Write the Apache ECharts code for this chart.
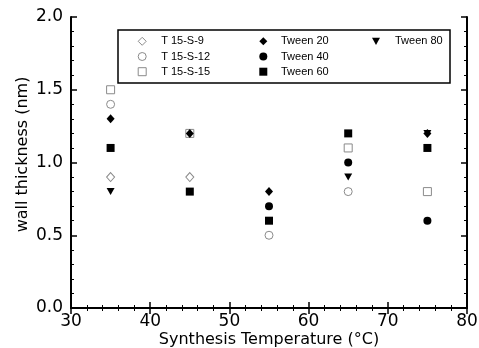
<!DOCTYPE html>
<html><head><meta charset="utf-8">
<script src="https://cdn.jsdelivr.net/npm/echarts@6/dist/echarts.min.js"></script>
<style>html,body{margin:0;padding:0;background:#fff}#c{width:479px;height:348px}</style>
</head><body><div id="c"></div>
<script>
const temps = [35, 45, 55, 65, 75];
const seriesNames = ['T 15-S-9', 'T 15-S-12', 'T 15-S-15', 'Tween 20', 'Tween 40', 'Tween 60', 'Tween 80'];
const t15s9   = [0.9, 0.9, null, null, null];
const t15s12  = [1.4, null, 0.5, 0.8, null];
const t15s15  = [1.5, 1.2, null, 1.1, 0.8];
const tween20 = [1.3, 1.2, 0.8, null, 1.2];
const tween40 = [null, null, 0.7, 1.0, 0.6];
const tween60 = [1.1, 0.8, 0.6, 1.2, 1.1];
const tween80 = [0.8, null, null, 0.9, 1.2];
const xTicks = [30, 40, 50, 60, 70, 80];
const yTicks = [0.0, 0.5, 1.0, 1.5, 2.0];

const values = [t15s9, t15s12, t15s15, tween20, tween40, tween60, tween80];
const downTri = 'path://M0,0L10,0L5,9Z';
const styles = [
  {symbol: 'diamond', size: [8, 9], open: true},
  {symbol: 'circle', size: 8, open: true},
  {symbol: 'rect', size: 8, open: true},
  {symbol: 'diamond', size: [8, 9], open: false},
  {symbol: 'circle', size: 8, open: false},
  {symbol: 'rect', size: 8, open: false},
  {symbol: downTri, size: [8, 7], open: false}
];
const openStyle = {color: '#fff', borderColor: '#8a8a8a', borderWidth: 1, opacity: 1};
const fillStyle = {color: '#000', borderWidth: 0, opacity: 1};
const series = seriesNames.map((n, i) => ({
  name: n, type: 'scatter', xAxisIndex: 0, yAxisIndex: 0,
  symbol: styles[i].symbol, symbolSize: styles[i].size,
  itemStyle: styles[i].open ? openStyle : fillStyle,
  data: temps.map((t, j) => values[i][j] == null ? null : [t, values[i][j]]).filter(d => d)
}));

const chart = echarts.init(document.getElementById('c'), null, {renderer: 'canvas'});
const font = 'DejaVu Sans';
const axisCommon = {
  axisLine: {lineStyle: {color: '#000', width: 2}},
  axisTick: {inside: true, length: 6, lineStyle: {color: '#000', width: 1.5}},
  minorTick: {show: true, splitNumber: 5, length: 3, lineStyle: {color: '#000', width: 1}},
  splitLine: {show: false}
};
function legendDef(left, names, pad) {
  return {
    orient: 'vertical', left: left, top: 34.8, padding: 0, itemWidth: 8, itemHeight: 8, itemGap: 2.2,
    textStyle: {fontFamily: 'Liberation Sans', fontSize: 11, lineHeight: 13, color: '#000', padding: [0, 0, 0, pad]},
    selectedMode: false,
    data: names.map(n => {
      const i = seriesNames.indexOf(n);
      return {name: n, icon: styles[i].symbol, itemStyle: styles[i].open ? openStyle : fillStyle};
    })
  };
}
chart.setOption({
  animation: false,
  grid: {left: 71, right: 12, top: 17, bottom: 40, outerBoundsMode: 'none', containLabel: false},
  xAxis: [
    Object.assign({type: 'value', min: xTicks[0], max: xTicks[xTicks.length - 1], interval: 10, position: 'bottom',
      name: 'Synthesis Temperature (°C)', nameLocation: 'middle', nameGap: 24, nameMoveOverlap: false,
      nameTextStyle: {fontFamily: font, fontSize: 16, color: '#000'},
      axisLabel: {fontFamily: font, fontSize: 17, color: '#000', margin: 5}}, axisCommon),
    Object.assign({type: 'value', min: 30, max: 80, interval: 10, position: 'top', axisLabel: {show: false}}, axisCommon)
  ],
  yAxis: [
    Object.assign({type: 'value', min: yTicks[0], max: yTicks[yTicks.length - 1], interval: 0.5, position: 'left',
      name: 'wall thickness (nm)', nameLocation: 'middle', nameGap: 40, nameMoveOverlap: false,
      nameTextStyle: {fontFamily: font, fontSize: 16, color: '#000', padding: [0, 0, 0, 16]},
      axisLabel: {fontFamily: font, fontSize: 17, color: '#000', margin: 8, formatter: v => v.toFixed(1)}}, axisCommon),
    Object.assign({type: 'value', min: 0, max: 2, interval: 0.5, position: 'right', axisLabel: {show: false}}, axisCommon)
  ],
  legend: [
    legendDef(137.7, seriesNames.slice(0, 3), 10),
    legendDef(259.3, seriesNames.slice(3, 6), 8.7),
    legendDef(372, seriesNames.slice(6), 10)
  ],
  graphic: [{type: 'rect', shape: {x: 118, y: 30, width: 332, height: 53}, style: {fill: null, stroke: '#000', lineWidth: 1.5}, z: 10}],
  series: series
});
</script></body></html>
